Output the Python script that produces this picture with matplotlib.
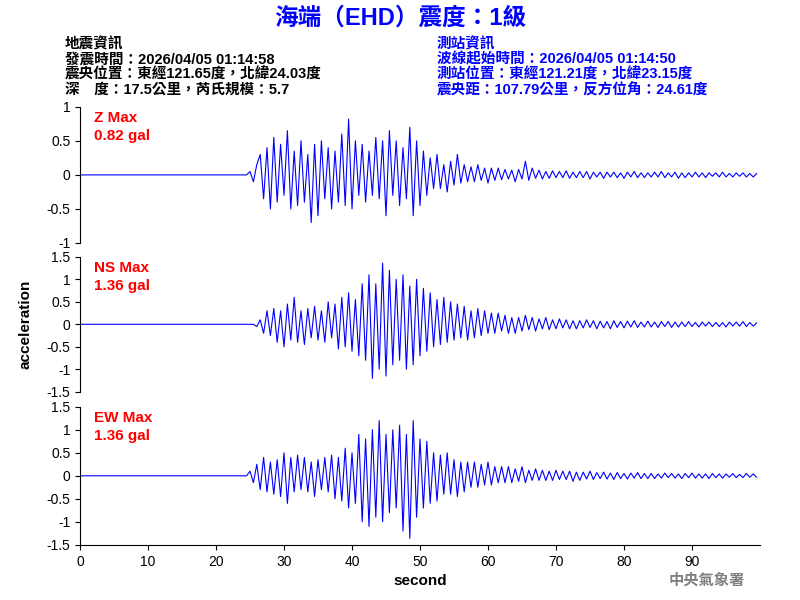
import matplotlib
matplotlib.use("Agg")
import matplotlib.pyplot as plt
import numpy as np

plt.rcParams['font.family'] = ['Liberation Sans', 'Noto Sans CJK TC', 'DejaVu Sans']

t_start = 24.0
dt = 0.5
z_vals = [0,0,0.05,-0.1,0.15,0.3,-0.35,0.4,-0.5,0.55,
 -0.4,0.45,-0.3,0.65,-0.5,0.35,-0.45,0.5,-0.4,0.3,
 -0.7,0.45,-0.6,0.5,-0.35,0.4,-0.5,0.35,-0.4,0.6,
 -0.45,0.82,-0.5,0.5,-0.3,0.45,-0.4,0.35,-0.3,0.55,
 -0.35,0.5,-0.6,0.65,-0.3,0.5,-0.45,0.4,-0.35,0.7,
 -0.6,0.5,-0.45,0.35,-0.3,0.25,-0.2,0.3,-0.2,0.15,
 -0.25,0.2,-0.15,0.3,-0.12,0.15,-0.1,0.12,-0.1,0.15,
 -0.08,0.1,-0.12,0.1,-0.08,0.1,-0.07,0.08,-0.06,0.07,
 -0.1,0.08,-0.06,0.2,-0.08,0.1,-0.05,0.07,-0.06,0.05,
 -0.05,0.06,-0.04,0.05,-0.04,0.06,-0.05,0.04,-0.04,0.05,
 -0.04,0.05,-0.06,0.04,-0.03,0.04,-0.05,0.04,-0.03,0.04,
 -0.04,0.03,-0.05,0.04,-0.03,0.05,-0.04,0.03,-0.04,0.03,
 -0.03,0.04,-0.03,0.05,-0.04,0.03,-0.03,0.04,-0.05,0.03,
 -0.04,0.03,-0.03,0.04,-0.03,0.03,-0.04,0.03,-0.02,0.03,
 -0.03,0.04,-0.03,0.02,-0.03,0.03,-0.02,0.03,-0.03,0.02,
 -0.03,0.02]
ns_vals = [0,0,0,0,-0.05,0.1,-0.2,0.3,-0.25,0.35,
 -0.4,0.3,-0.5,0.45,-0.35,0.6,-0.4,0.3,-0.45,0.35,
 -0.3,0.4,-0.35,0.3,-0.4,0.5,-0.3,0.45,-0.55,0.6,
 -0.5,0.7,-0.6,0.55,-0.7,0.9,-0.8,1.1,-1.2,0.9,
 -1.0,1.36,-1.15,1.2,-0.9,1.0,-0.8,1.1,-1.0,0.85,
 -0.9,1.0,-0.7,0.8,-0.6,0.7,-0.5,0.55,-0.45,0.6,
 -0.4,0.5,-0.35,0.45,-0.3,0.4,-0.35,0.3,-0.3,0.35,
 -0.25,0.3,-0.2,0.25,-0.2,0.25,-0.15,0.2,-0.2,0.15,
 -0.2,0.15,-0.15,0.2,-0.12,0.15,-0.15,0.12,-0.1,0.15,
 -0.12,0.1,-0.1,0.12,-0.08,0.1,-0.1,0.08,-0.1,0.08,
 -0.08,0.1,-0.07,0.08,-0.1,0.07,-0.08,0.06,-0.1,0.08,
 -0.07,0.06,-0.08,0.07,-0.06,0.08,-0.07,0.05,-0.06,0.07,
 -0.06,0.05,-0.07,0.06,-0.05,0.06,-0.07,0.05,-0.06,0.05,
 -0.05,0.06,-0.05,0.04,-0.06,0.05,-0.04,0.05,-0.05,0.04,
 -0.05,0.04,-0.06,0.05,-0.04,0.05,-0.04,0.06,-0.05,0.04,
 -0.04,0.03]
ew_vals = [0,0,0.1,-0.15,0.25,-0.3,0.4,-0.35,0.3,-0.4,
 0.35,-0.45,0.5,-0.6,0.4,-0.35,0.45,-0.3,0.4,-0.35,
 0.3,-0.45,0.35,-0.3,0.4,-0.35,0.45,-0.5,0.4,-0.55,
 0.6,-0.7,0.5,-0.6,0.9,-1.0,0.8,-1.1,1.0,-0.9,
 1.2,-1.0,0.9,-0.8,1.0,-0.7,1.1,-1.2,0.9,-1.36,
 1.2,-0.9,0.8,-0.7,0.75,-0.6,0.5,-0.55,0.45,-0.4,
 0.5,-0.4,0.35,-0.45,0.3,-0.35,0.3,-0.25,0.3,-0.25,
 0.25,-0.2,0.3,-0.2,0.2,-0.15,0.2,-0.15,0.2,-0.15,
 0.15,-0.12,0.2,-0.15,0.12,-0.1,0.15,-0.1,0.12,-0.1,
 0.1,-0.1,0.12,-0.08,0.1,-0.08,0.1,-0.12,0.08,-0.1,
 0.08,-0.07,0.1,-0.08,0.07,-0.06,0.08,-0.07,0.06,-0.08,
 0.07,-0.06,0.05,-0.07,0.06,-0.05,0.07,-0.06,0.05,-0.06,
 0.05,-0.06,0.04,-0.05,0.06,-0.04,0.05,-0.05,0.04,-0.06,
 0.05,-0.04,0.06,-0.05,0.04,-0.05,0.04,-0.06,0.05,-0.04,
 0.04,-0.05,0.04,-0.03,0.05,-0.04,0.03,-0.04,0.05,-0.03,
 0.04,-0.03]
labels = ["Z Max\n0.82 gal", "NS Max\n1.36 gal", "EW Max\n1.36 gal"]
ylims = [(-1, 1), (-1.5, 1.5), (-1.5, 1.5)]
yticks = [[-1, -0.5, 0, 0.5, 1], [-1.5, -1, -0.5, 0, 0.5, 1, 1.5], [-1.5, -1, -0.5, 0, 0.5, 1, 1.5]]

fig = plt.figure(figsize=(8, 6), dpi=100)
boxes = [(0.1, 0.595, 0.85, 0.227), (0.1, 0.347, 0.85, 0.225), (0.1, 0.092, 0.85, 0.23)]
for i, (vals, lab, yl, yt, box) in enumerate(zip([z_vals, ns_vals, ew_vals], labels, ylims, yticks, boxes)):
    ax = fig.add_axes(box)
    t = np.concatenate([[0.0], t_start + dt * np.arange(len(vals))])
    ax.plot(t, [0.0] + vals, color='#0000ff', lw=0.8)
    ax.set_xlim(0, 100)
    ax.set_ylim(*yl)
    ax.set_yticks(yt)
    ax.set_yticklabels([f"{v:g}" for v in yt], fontsize=10)
    for s in ['top', 'right']:
        ax.spines[s].set_visible(False)
    ax.text(0.02, 0.97, lab, transform=ax.transAxes, color='red', fontsize=11, fontweight='bold',
            va='top', ha='left', linespacing=1.4)
    if i < 2:
        ax.spines['bottom'].set_visible(False)
        ax.set_xticks([])
    else:
        ax.set_xticks(range(0, 100, 10))
        ax.tick_params(labelsize=10)
        ax.set_xlabel("second", fontsize=11, fontweight='bold', labelpad=4)
    if i == 1:
        ax.set_ylabel("acceleration", fontsize=11, fontweight='bold', labelpad=10)

fig.text(0.5, 0.97, "海端（EHD）震度：1級", color='#0000ff', fontsize=17, fontweight='bold',
         ha='center', va='center')
left = ["地震資訊", "發震時間：2026/04/05 01:14:58", "震央位置：東經121.65度，北緯24.03度", "深　度：17.5公里，芮氏規模：5.7"]
right = ["測站資訊", "波線起始時間：2026/04/05 01:14:50", "測站位置：東經121.21度，北緯23.15度", "震央距：107.79公里，反方位角：24.61度"]
for k, (a, b) in enumerate(zip(left, right)):
    y = 1 - (44 + 15.3 * k) / 600
    fig.text(65 / 800, y, a, fontsize=10.5, color='black', va='center', fontweight='bold')
    fig.text(437 / 800, y, b, fontsize=10.5, color='#0000ff', va='center', fontweight='bold')
fig.text(745 / 800, 1 - 580 / 600, "中央氣象署", fontsize=11, color='gray', ha='right', va='center',
         fontweight='bold')
fig.savefig("out.png", dpi=100)
